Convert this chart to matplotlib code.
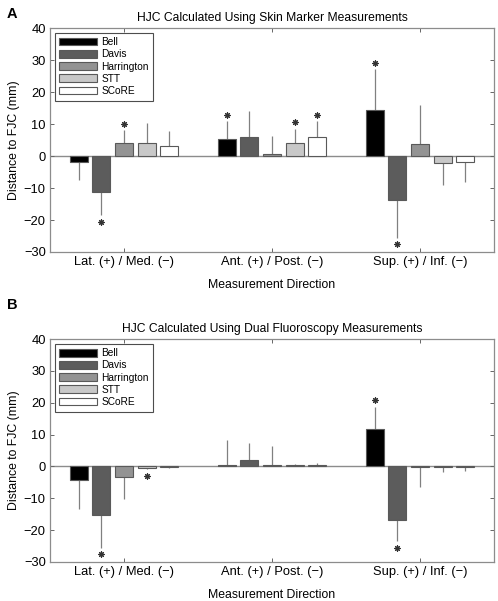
import numpy as np
import matplotlib
matplotlib.use('Agg')
import matplotlib.pyplot as plt

plt.rcParams['font.family'] = ['Liberation Sans', 'DejaVu Sans']

directions = ['Lat. (+) / Med. (\u2212)', 'Ant. (+) / Post. (\u2212)', 'Sup. (+) / Inf. (\u2212)']
methods = ['Bell', 'Davis', 'Harrington', 'STT', 'SCoRE']
colors = ['#000000', '#5c5c5c', '#939393', '#c8c8c8', '#ffffff']

# panel A: skin marker (rows = method, cols = direction)
skin_mean = np.array([[-1.8, 5.3, 14.3],
                      [-11.3, 5.8, -13.8],
                      [4.2, 0.7, 3.8],
                      [4.2, 4.1, -2.1],
                      [3.0, 5.9, -1.8]])
skin_sd = np.array([[5.7, 5.5, 12.9],
                    [7.2, 8.2, 11.8],
                    [3.8, 5.7, 12.1],
                    [6.2, 4.4, 6.9],
                    [4.9, 4.9, 6.4]])
skin_sig = np.array([[0, 1, 1],
                     [1, 0, 1],
                     [1, 0, 0],
                     [0, 1, 0],
                     [0, 1, 0]])

# panel B: dual fluoroscopy
df_mean = np.array([[-4.3, 0.3, 11.7],
                    [-15.2, 2.1, -16.9],
                    [-3.2, 0.3, -0.2],
                    [-0.5, 0.3, -0.2],
                    [-0.3, 0.3, -0.05]])
df_sd = np.array([[9.2, 8.0, 7.1],
                  [10.4, 5.3, 6.6],
                  [6.9, 6.0, 6.1],
                  [0.4, 0.4, 1.4],
                  [0.3, 0.8, 1.5]])
df_sig = np.array([[0, 0, 1],
                   [1, 0, 1],
                   [0, 0, 0],
                   [1, 0, 0],
                   [0, 0, 0]])

titles = ['HJC Calculated Using Skin Marker Measurements',
          'HJC Calculated Using Dual Fluoroscopy Measurements']
panel_letters = ['A', 'B']


def draw_panel(ax, mean, sd, sig, title):
    x = np.arange(1, len(directions) + 1)
    step = 0.153
    width = 0.123
    ax.axhline(0, color='0.55', lw=1.0, zorder=1)
    for i, m in enumerate(methods):
        xs = x + (i - 2) * step
        vals = mean[i]
        sgn = np.where(vals >= 0, 1, -1)
        lower = np.where(sgn < 0, sd[i], 0)
        upper = np.where(sgn > 0, sd[i], 0)
        ax.errorbar(xs, vals, yerr=[lower, upper], fmt='none', ecolor='0.5',
                    elinewidth=0.9, capsize=0, zorder=2)
        ax.bar(xs, vals, width, color=colors[i], edgecolor='0.35', lw=0.8,
               label=m, zorder=3)
        # significance asterisks just past the end of the error bar
        mask = sig[i] == 1
        star_y = vals + sgn * (sd[i] + 2.0)
        ax.plot(xs[mask], star_y[mask], linestyle='none', marker=(8, 2, 0),
                ms=4.5, mew=0.8, mec='0.2', zorder=4)
    ax.set_xlim(0.5, 3.5)
    ax.set_ylim(-30, 40)
    ax.set_yticks(np.arange(-30, 41, 10))
    ax.set_xticks(x)
    ax.set_xticklabels(directions)
    ax.tick_params(direction='in', top=True, right=True, labelsize=9.3,
                   length=3, color='0.4', width=0.7, pad=3)
    for s in ax.spines.values():
        s.set_color('0.55')
        s.set_linewidth(0.9)
    ax.set_title(title, fontsize=8.7, pad=5)
    ax.set_xlabel('Measurement Direction', fontsize=8.8, labelpad=8)
    ax.set_ylabel('Distance to FJC (mm)', fontsize=8.8, labelpad=3)
    leg = ax.legend(loc='upper left', fontsize=7.3, handlelength=3.7,
                    handleheight=0.8, labelspacing=0.22, borderpad=0.45,
                    handletextpad=0.45, fancybox=False, framealpha=1,
                    borderaxespad=0.45)
    leg.get_frame().set_edgecolor('0.3')
    leg.get_frame().set_linewidth(0.8)


fig = plt.figure(figsize=(4.98, 6.01), dpi=100)
axA = fig.add_axes([0.1004, 0.5807, 0.8916, 0.3727])
axB = fig.add_axes([0.1004, 0.0649, 0.8916, 0.3710])

draw_panel(axA, skin_mean, skin_sd, skin_sig, titles[0])
draw_panel(axB, df_mean, df_sd, df_sig, titles[1])

fig.text(0.014, 0.988, panel_letters[0], fontsize=10.5, fontweight='bold', va='top')
fig.text(0.014, 0.504, panel_letters[1], fontsize=10.5, fontweight='bold', va='top')

fig.savefig('out.png', dpi=100)
